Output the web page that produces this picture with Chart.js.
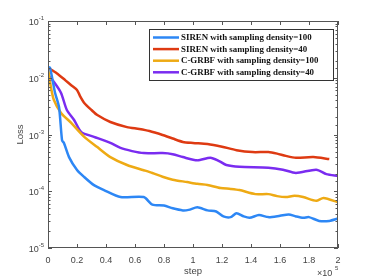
<!DOCTYPE html>
<html lang="en">
<head>
  <meta charset="UTF-8" />
  <title>Loss vs step</title>
  <script src="https://cdn.jsdelivr.net/npm/chart.js"></script>
  <style>
    * { margin: 0; padding: 0; box-sizing: border-box; }
    body { width: 374px; height: 280px; background: #fff; overflow: hidden; }
    #wrap { position: relative; width: 374px; height: 280px; }
  </style>
</head>
<body>
  <div id="wrap"><canvas id="lossChart" width="374" height="280"></canvas></div>

  <script>
    // series labels
    const seriesNames = [
      'SIREN with sampling density=100',
      'SIREN with sampling density=40',
      'C-GRBF with sampling density=100',
      'C-GRBF with sampling density=40'
    ];

    // SIREN, density 100
    const sirenDense_steps = [0, 1400, 4800, 7600, 9700, 11000, 14500, 20000, 25000, 31700, 38600, 50000, 66000, 72000, 80000, 86000, 93000, 97000, 103000, 110000, 116000, 121000, 126000, 130000, 135000, 139000, 145500, 152000, 160000, 166000, 171000, 176000, 180000, 187000, 194000, 200000];
    const sirenDense_loss = [0.0155, 0.015, 0.0055, 0.00305, 0.00079, 0.00071, 0.0004, 0.000237, 0.000178, 0.000128, 0.000105, 0.000079, 0.000079, 0.000058, 0.000056, 0.00005, 0.000046, 0.000047, 0.000052, 0.000046, 0.000044, 0.000036, 0.000035, 0.000041, 0.000036, 0.000034, 0.000038, 0.000035, 0.000037, 0.000039, 0.000036, 0.000034, 0.000035, 0.00003, 0.00003, 0.000033];

    // SIREN, density 40
    const sirenSparse_steps = [0, 6000, 12000, 16000, 20000, 22000, 25000, 30000, 34000, 43000, 54500, 63000, 70000, 79000, 86000, 93000, 100000, 110000, 120000, 130000, 141000, 152000, 158000, 164000, 171000, 183000, 194000];
    const sirenSparse_loss = [0.015, 0.012, 0.009, 0.0074, 0.0061, 0.0048, 0.0036, 0.0027, 0.0022, 0.00166, 0.00135, 0.00125, 0.00115, 0.00098, 0.00085, 0.00074, 0.00071, 0.00068, 0.00061, 0.00053, 0.00049, 0.00049, 0.00046, 0.00042, 0.00039, 0.0004, 0.00037];

    // C-GRBF, density 100
    const grbfDense_steps = [0, 2000, 4000, 9000, 16000, 25000, 34000, 43000, 54500, 66000, 72000, 79000, 86000, 96000, 103000, 110000, 119000, 126000, 132000, 143000, 152000, 158000, 164000, 170000, 176000, 185000, 190000, 200000];
    const grbfDense_loss = [0.015, 0.0069, 0.0041, 0.0024, 0.0016, 0.00091, 0.0006, 0.0004, 0.00029, 0.000235, 0.00021, 0.00018, 0.00016, 0.000145, 0.000135, 0.000129, 0.000114, 0.00011, 0.000105, 0.000089, 0.000089, 0.000082, 0.000079, 0.000083, 0.000079, 0.000068, 0.000076, 0.000064];

    // C-GRBF, density 40
    const grbfSparse_steps = [0, 4000, 9000, 13000, 18000, 23000, 31700, 43000, 50000, 58000, 66000, 79000, 86000, 93000, 103000, 112000, 118000, 123000, 132000, 152000, 162000, 171000, 185000, 192000, 200000];
    const grbfSparse_loss = [0.0112, 0.0085, 0.0054, 0.0027, 0.0018, 0.0011, 0.00091, 0.00071, 0.00058, 0.00051, 0.00047, 0.00047, 0.00045, 0.0004, 0.00035, 0.00039, 0.00034, 0.00029, 0.00027, 0.00026, 0.00024, 0.00021, 0.00024, 0.0002, 0.000186];

    const colors = ['#2d87f5', '#de3a12', '#eeaa14', '#7a2cf0'];

    const xTicks = [0, 0.2, 0.4, 0.6, 0.8, 1, 1.2, 1.4, 1.6, 1.8, 2];

    function pts(xs, ys) {
      return xs.map((x, i) => ({ x: x, y: ys[i] }));
    }

    const allSeries = [
      pts(sirenDense_steps, sirenDense_loss),
      pts(sirenSparse_steps, sirenSparse_loss),
      pts(grbfDense_steps, grbfDense_loss),
      pts(grbfSparse_steps, grbfSparse_loss)
    ];

    const axisColor = '#555';
    const textColor = '#444';

    // matlab style box, inward ticks, y labels with superscripts, titles
    const frame = {
      id: 'frame',
      afterDatasetsDraw(chart) {
        const ctx = chart.ctx;
        const a = chart.chartArea;
        const xs = chart.scales.x, ys = chart.scales.y;
        ctx.save();
        ctx.strokeStyle = axisColor;
        ctx.lineWidth = 1;
        ctx.strokeRect(a.left + 0.5, a.top + 0.5, a.right - a.left - 1, a.bottom - a.top - 1);

        ctx.beginPath();
        xs.ticks.forEach(t => {
          const px = Math.round(xs.getPixelForValue(t.value)) + 0.5;
          ctx.moveTo(px, a.bottom); ctx.lineTo(px, a.bottom - 4);
          ctx.moveTo(px, a.top); ctx.lineTo(px, a.top + 4);
        });
        ys.ticks.forEach(t => {
          const py = Math.round(ys.getPixelForValue(t.value)) + 0.5;
          const e = Math.log10(t.value);
          const len = Math.abs(e - Math.round(e)) < 1e-6 ? 4 : 2.5;
          ctx.moveTo(a.left, py); ctx.lineTo(a.left + len, py);
          ctx.moveTo(a.right, py); ctx.lineTo(a.right - len, py);
        });
        ctx.stroke();

        // y tick labels 10^n
        ctx.fillStyle = textColor;
        ys.ticks.forEach(t => {
          const e = Math.log10(t.value);
          if (Math.abs(e - Math.round(e)) > 1e-6) return;
          const py = ys.getPixelForValue(t.value);
          const sup = String(Math.round(e));
          ctx.font = '6px "Liberation Sans", Arial, sans-serif';
          const sw = ctx.measureText(sup).width;
          ctx.textAlign = 'right';
          ctx.textBaseline = 'alphabetic';
          ctx.fillText(sup, a.left - 4, py - 1);
          ctx.font = '9px "Liberation Sans", Arial, sans-serif';
          ctx.fillText('10', a.left - 4 - sw, py + 4);
        });

        // axis titles
        ctx.font = '9.5px "Liberation Sans", Arial, sans-serif';
        ctx.textAlign = 'center';
        ctx.textBaseline = 'middle';
        ctx.fillText('step', (a.left + a.right) / 2, 271);
        ctx.save();
        ctx.translate(20, (a.top + a.bottom) / 2);
        ctx.rotate(-Math.PI / 2);
        ctx.fillText('Loss', 0, 0);
        ctx.restore();

        // x scale factor
        ctx.textAlign = 'left';
        ctx.textBaseline = 'alphabetic';
        ctx.font = '9px "Liberation Sans", Arial, sans-serif';
        ctx.fillText('\u00d710', a.right - 21, 276);
        ctx.font = '6px "Liberation Sans", Arial, sans-serif';
        ctx.fillText('5', a.right - 3, 270);

        // legend box
        const bx = 149, by = 29, bw = 184, bh = 51;
        ctx.fillStyle = '#fff';
        ctx.fillRect(bx, by, bw, bh);
        ctx.strokeStyle = '#333';
        ctx.strokeRect(bx + 0.5, by + 0.5, bw, bh);
        ctx.font = 'bold 8.9px "Liberation Serif", "Times New Roman", serif';
        ctx.textBaseline = 'middle';
        chart.data.datasets.forEach((ds, i) => {
          const ry = by + 8.5 + i * 11.6;
          ctx.strokeStyle = ds.borderColor;
          ctx.lineWidth = 2.5;
          ctx.beginPath();
          ctx.moveTo(bx + 4, ry); ctx.lineTo(bx + 30, ry);
          ctx.stroke();
          ctx.fillStyle = '#111';
          ctx.fillText(ds.label, bx + 32, ry + 0.5);
        });
        ctx.restore();
      }
    };

    new Chart(document.getElementById('lossChart'), {
      type: 'line',
      data: {
        datasets: allSeries.map((d, i) => ({
          label: seriesNames[i],
          data: d,
          borderColor: colors[i],
          backgroundColor: colors[i],
          borderWidth: 2.5,
          pointRadius: 0,
          tension: 0.25,
          fill: false
        }))
      },
      options: {
        responsive: false,
        animation: false,
        devicePixelRatio: 1,
        layout: { padding: { top: 21, right: 36, left: 0, bottom: 0 } },
        plugins: { legend: { display: false }, tooltip: { enabled: false } },
        scales: {
          x: {
            type: 'linear',
            min: 0,
            max: 200000,
            grid: { display: false, drawTicks: false },
            border: { display: false },
            afterBuildTicks: s => { s.ticks = xTicks.map(v => ({ value: v * 1e5 })); },
            ticks: {
              autoSkip: false,
              maxRotation: 0,
              padding: 7,
              color: textColor,
              font: { family: '"Liberation Sans", Arial, sans-serif', size: 9 },
              callback: v => String(Math.round(v / 1e4) / 10)
            },
            afterFit: s => { s.height = 32; }
          },
          y: {
            type: 'logarithmic',
            min: 1e-5,
            max: 1e-1,
            grid: { display: false, drawTicks: false },
            border: { display: false },
            ticks: { display: false, autoSkip: false },
            afterFit: s => { s.width = 48; }
          }
        }
      },
      plugins: [frame]
    });
  </script>
</body>
</html>
